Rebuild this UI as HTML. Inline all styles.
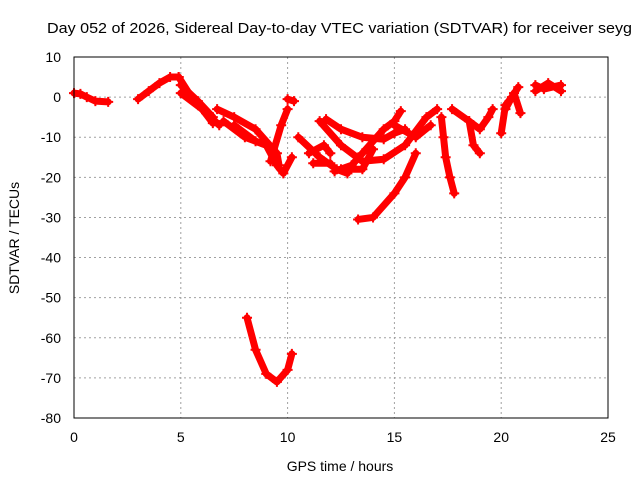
<!DOCTYPE html>
<html><head><meta charset="utf-8"><style>
body{margin:0;background:#fff}
svg{display:block;font-family:"Liberation Sans",sans-serif}
</style></head><body>
<svg id="chart" width="640" height="480">
<text x="47" y="33" font-size="15" textLength="585" lengthAdjust="spacingAndGlyphs">Day 052 of 2026, Sidereal Day-to-day VTEC variation (SDTVAR) for receiver seyg</text>
<text x="340" y="471" font-size="14" text-anchor="middle">GPS time / hours</text>
<text transform="translate(19,238) rotate(-90)" font-size="14" text-anchor="middle">SDTVAR / TECUs</text>
<g id="grid"></g><g id="ticks"></g><g id="marks"></g>
<rect x="74" y="57" width="534" height="361" fill="none" stroke="#000" stroke-width="1"/>
</svg>
<script>
const xTicks=[0,5,10,15,20,25];
const yTicks=[10,0,-10,-20,-30,-40,-50,-60,-70,-80];
const tracks=[
[[0,0.3,0.6,1,1.6],[1,0.8,0,-1,-1.2]],
[[3,3.5,4,4.5,4.9],[-0.5,1.5,3.5,5,5]],
[[4.9,5.5,6,6.5],[5,0,-3,-6.5]],
[[5,5.8,6.5],[3,-1,-5]],
[[5,6,6.8],[1,-3,-7]],
[[6.7,7.5,8.5,9.5,9.6],[-3,-5,-8,-14,-17]],
[[7,8,9,9.5,9.8,10.2],[-6,-10,-12,-17,-19,-15]],
[[7.5,8.5,9],[-7,-11,-12]],
[[9.2,9.7,10],[-16,-7,-3]],
[[10,10.3],[-0.5,-1]],
[[10.5,11.5,12.3,12.8],[-10,-15,-18,-19]],
[[11,11.7,12],[-14,-12,-14]],
[[11.2,12],[-16.5,-16.5]],
[[11.5,12.5,13.5,14.5,15.5,16.5,17],[-6,-12,-16,-15.5,-12,-5,-3]],
[[12.2,13,13.5,14.5,15,15.3],[-18.5,-17,-14,-8,-6,-3.5]],
[[11.8,12.5,13.5,14.5,15,15.5],[-5.5,-8,-10,-10.5,-9,-8]],
[[12.5,13.5,14],[-18,-18,-13]],
[[13.3,14,15,15.5,16],[-30.5,-30,-24,-20,-14]],
[[15,16,16.7],[-7,-10,-7]],
[[17.2,17.3,17.4,17.6,17.8],[-5,-10,-15,-20,-24]],
[[17.7,18.5,18.7,19],[-3,-6,-12,-14]],
[[18.5,19,19.4,19.6],[-6,-8,-5,-3]],
[[20,20.2,20.5,20.8],[-9,-2,0,2.5]],
[[20.2,20.6,20.9],[-3,1,-4]],
[[21.6,22,22.8],[3,2,3]],
[[21.6,22.2,22.8],[1.5,3.5,1.5]],
[[8.1,8.5,9,9.5,10,10.2],[-55,-63,-69,-71,-68,-64]]
];
const X0=74,X1=608,Y0=418,Y1=57;
const xs=h=>X0+(h-0)/25*(X1-X0);
const ys=v=>Y0-(v+80)/90*(Y0-Y1);
const NS="http://www.w3.org/2000/svg";
function mk(t,a,p){const e=document.createElementNS(NS,t);for(const k in a)e.setAttribute(k,a[k]);p.appendChild(e);return e;}
const grid=document.getElementById('grid'),ticks=document.getElementById('ticks'),marks=document.getElementById('marks');
xTicks.forEach(t=>{const x=xs(t);
 if(t>0&&t<25){const g=mk('line',{x1:x,x2:x,y1:Y1,y2:Y0,stroke:'#a0a0a0','stroke-dasharray':'2,3'},grid);
 
 }
 const l=mk('text',{x:x,y:442,'font-size':14,'text-anchor':'middle'},ticks);l.textContent=t;
 
 
});
yTicks.forEach(t=>{const y=ys(t);
 if(t>-80&&t<10){const g=mk('line',{x1:X0,x2:X1,y1:y,y2:y,stroke:'#a0a0a0','stroke-dasharray':'2,3'},grid);
 
 }
 const l=mk('text',{x:61,y:y+5,'font-size':14,'text-anchor':'end'},ticks);l.textContent=t;
 
 
});
tracks.forEach(tr=>{
 const pts=tr[0].map((h,i)=>xs(h)+','+ys(tr[1][i])).join(' ');
 const p=mk('polyline',{points:pts,fill:'none',stroke:'#f00','stroke-width':7,'stroke-linejoin':'round','stroke-linecap':'round'},marks);
 
 
 tr[0].forEach((h,i)=>{const x=xs(h),y=ys(tr[1][i]);
  const c=mk('path',{d:`M${x-5},${y}h10M${x},${y-5}v10`,stroke:'#f00','stroke-width':2},marks);
  
  
 });
});
</script>
</body></html>
